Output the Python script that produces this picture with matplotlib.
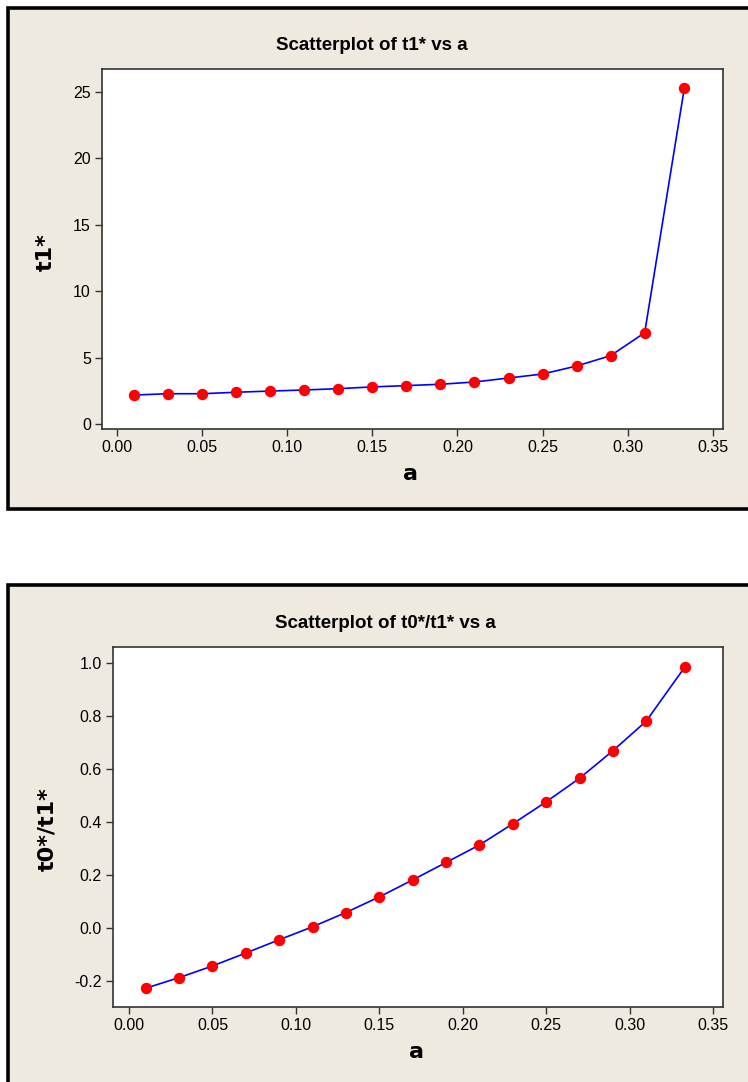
import matplotlib
matplotlib.use("Agg")
import matplotlib.pyplot as plt
from matplotlib.patches import Rectangle

# ---- data ----
a_vals = [0.01, 0.03, 0.05, 0.07, 0.09, 0.11, 0.13, 0.15, 0.17,
          0.19, 0.21, 0.23, 0.25, 0.27, 0.29, 0.31, 0.3333]
t1_vals = [2.21, 2.31, 2.31, 2.42, 2.51, 2.59, 2.69, 2.82, 2.92,
           3.02, 3.19, 3.49, 3.79, 4.39, 5.17, 6.89, 25.28]
ratio_vals = [-0.229, -0.189, -0.145, -0.096, -0.046, 0.003, 0.057, 0.116, 0.180,
              0.246, 0.312, 0.392, 0.475, 0.564, 0.668, 0.780, 0.986]
x_ticks = [0.00, 0.05, 0.10, 0.15, 0.20, 0.25, 0.30, 0.35]
x_ticklabels = ["0.00", "0.05", "0.10", "0.15", "0.20", "0.25", "0.30", "0.35"]
t1_ticks = [0, 5, 10, 15, 20, 25]
ratio_ticks = [-0.2, 0.0, 0.2, 0.4, 0.6, 0.8, 1.0]
ratio_ticklabels = ["-0.2", "0.0", "0.2", "0.4", "0.6", "0.8", "1.0"]

W, H = 748, 1082
fig = plt.figure(figsize=(W / 100, H / 100), dpi=100)
fig.patch.set_facecolor("white")

BEIGE = "#EEEAE0"
FONT = "Liberation Sans"
LABFONT = "DejaVu Sans"


def fx(px):
    return px / W


def fy(py):
    return 1 - py / H


def panel(x0, y0, x1, y1):
    r = Rectangle((fx(x0), fy(y1)), fx(x1) - fx(x0), fy(y0) - fy(y1),
                  transform=fig.transFigure, facecolor=BEIGE,
                  edgecolor="black", linewidth=2.6, zorder=-5)
    fig.patches.append(r)


def make_axes(left, top, right, bottom):
    ax = fig.add_axes([fx(left), fy(bottom), fx(right) - fx(left), fy(top) - fy(bottom)])
    ax.set_zorder(5)
    ax.set_facecolor("white")
    for s in ax.spines.values():
        s.set_color("#333333")
        s.set_linewidth(1.2)
    ax.tick_params(direction="out", length=5, width=1, color="#333333",
                   labelsize=11.5, pad=3, top=False, right=False)
    return ax


panel(8, 8, 770, 509)
panel(8, 585, 770, 1100)

# ---- top chart ----
ax1 = make_axes(102, 69, 723, 429)
ax1.plot(a_vals, t1_vals, color="#0000FF", lw=1.2, zorder=2)
ax1.plot(a_vals, t1_vals, "o", color="#FF0000", ms=7.2, mec="#FF0000", zorder=3)
ax1.set_xlim(-0.0088, 0.356)
ax1.set_ylim(-0.34, 26.7)
ax1.set_xticks(x_ticks)
ax1.set_xticklabels(x_ticklabels, family=FONT, fontsize=11.5)
ax1.set_yticks(t1_ticks)
ax1.set_yticklabels([str(v) for v in t1_ticks], family=FONT, fontsize=11.5)
fig.text(fx(372), fy(45), "Scatterplot of t1* vs a", ha="center", va="center",
         fontsize=13.5, fontweight="bold", family=FONT, zorder=6)
fig.text(fx(410), fy(474), "a", ha="center", va="center",
         fontsize=16, fontweight="bold", family=LABFONT, zorder=6)
fig.text(fx(46), fy(252), "t1*", ha="center", va="center", rotation=90,
         fontsize=16, fontweight="bold", family=LABFONT, zorder=6)

# ---- bottom chart ----
ax2 = make_axes(113, 647, 723, 1007)
ax2.plot(a_vals, ratio_vals, color="#0000FF", lw=1.2, zorder=2)
ax2.plot(a_vals, ratio_vals, "o", color="#FF0000", ms=7.2, mec="#FF0000", zorder=3)
ax2.set_xlim(-0.0096, 0.356)
ax2.set_ylim(-0.30, 1.06)
ax2.set_xticks(x_ticks)
ax2.set_xticklabels(x_ticklabels, family=FONT, fontsize=11.5)
ax2.set_yticks(ratio_ticks)
ax2.set_yticklabels(ratio_ticklabels, family=FONT, fontsize=11.5)
fig.text(fx(385), fy(624), "Scatterplot of t0*/t1* vs a", ha="center", va="center",
         fontsize=13.5, fontweight="bold", family=FONT, zorder=6)
fig.text(fx(416), fy(1052), "a", ha="center", va="center",
         fontsize=16, fontweight="bold", family=LABFONT, zorder=6)
fig.text(fx(47), fy(829), "t0*/t1*", ha="center", va="center", rotation=90,
         fontsize=16, fontweight="bold", family=LABFONT, zorder=6)

fig.savefig("out.png", dpi=100)
